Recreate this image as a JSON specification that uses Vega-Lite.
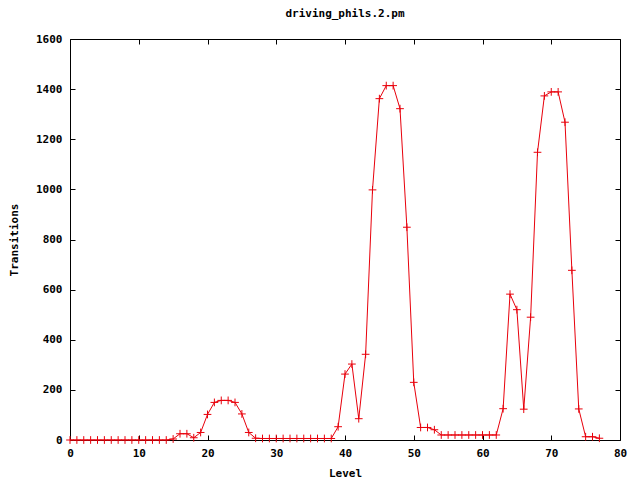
{
  "$schema": "https://vega.github.io/schema/vega-lite/v6.json",
  "autosize": "none",
  "padding": {"left": 70, "top": 39, "right": 20, "bottom": 40},
  "width": 550,
  "height": 401,
  "background": "white",
  "title": {"text": "driving_phils.2.pm", "font": "DejaVu Sans Mono", "fontSize": 11, "fontWeight": "bold", "color": "black", "offset": 14, "anchor": "middle"},
  "config": {
    "view": {"stroke": "black", "strokeWidth": 1},
    "axis": {"grid": false, "domain": false, "labelFlush": false, "labelFont": "DejaVu Sans Mono", "labelFontSize": 11, "labelFontWeight": "bold", "labelColor": "black", "titleFont": "DejaVu Sans Mono", "titleFontSize": 11, "titleFontWeight": "bold", "titleColor": "black", "tickColor": "black", "tickSize": -5, "format": "d"}
  },
  "data": {"values": [
    {"level": 0, "t": 0}, {"level": 1, "t": 0}, {"level": 2, "t": 0}, {"level": 3, "t": 0}, {"level": 4, "t": 0},
    {"level": 5, "t": 0}, {"level": 6, "t": 0}, {"level": 7, "t": 0}, {"level": 8, "t": 0}, {"level": 9, "t": 0},
    {"level": 10, "t": 0}, {"level": 11, "t": 0}, {"level": 12, "t": 0}, {"level": 13, "t": 0}, {"level": 14, "t": 0},
    {"level": 15, "t": 4}, {"level": 16, "t": 25}, {"level": 17, "t": 25}, {"level": 18, "t": 9}, {"level": 19, "t": 30},
    {"level": 20, "t": 102}, {"level": 21, "t": 150}, {"level": 22, "t": 158}, {"level": 23, "t": 158}, {"level": 24, "t": 150},
    {"level": 25, "t": 104}, {"level": 26, "t": 30}, {"level": 27, "t": 7}, {"level": 28, "t": 6}, {"level": 29, "t": 6},
    {"level": 30, "t": 6}, {"level": 31, "t": 6}, {"level": 32, "t": 6}, {"level": 33, "t": 6}, {"level": 34, "t": 6},
    {"level": 35, "t": 6}, {"level": 36, "t": 6}, {"level": 37, "t": 6}, {"level": 38, "t": 6}, {"level": 39, "t": 53},
    {"level": 40, "t": 263}, {"level": 41, "t": 303}, {"level": 42, "t": 85}, {"level": 43, "t": 342}, {"level": 44, "t": 998},
    {"level": 45, "t": 1362}, {"level": 46, "t": 1414}, {"level": 47, "t": 1414}, {"level": 48, "t": 1322}, {"level": 49, "t": 849},
    {"level": 50, "t": 230}, {"level": 51, "t": 50}, {"level": 52, "t": 50}, {"level": 53, "t": 41}, {"level": 54, "t": 20},
    {"level": 55, "t": 20}, {"level": 56, "t": 20}, {"level": 57, "t": 20}, {"level": 58, "t": 20}, {"level": 59, "t": 20},
    {"level": 60, "t": 20}, {"level": 61, "t": 20}, {"level": 62, "t": 20}, {"level": 63, "t": 125}, {"level": 64, "t": 582},
    {"level": 65, "t": 520}, {"level": 66, "t": 123}, {"level": 67, "t": 490}, {"level": 68, "t": 1148}, {"level": 69, "t": 1373},
    {"level": 70, "t": 1389}, {"level": 71, "t": 1389}, {"level": 72, "t": 1268}, {"level": 73, "t": 677}, {"level": 74, "t": 124},
    {"level": 75, "t": 13}, {"level": 76, "t": 13}, {"level": 77, "t": 7}
  ]},
  "layer": [
    {
      "mark": {"type": "line", "color": "#e8000b", "strokeWidth": 1},
      "encoding": {
        "x": {"field": "level", "type": "quantitative", "scale": {"domain": [0, 80], "nice": false, "zero": false}, "axis": {"orient": "bottom", "values": [0, 10, 20, 30, 40, 50, 60, 70, 80], "title": "Level", "labelPadding": 12, "titlePadding": 9}},
        "y": {"field": "t", "type": "quantitative", "scale": {"domain": [0, 1600], "nice": false}, "axis": {"orient": "left", "values": [0, 200, 400, 600, 800, 1000, 1200, 1400, 1600], "title": "Transitions", "labelPadding": 13, "titlePadding": 16}}
      }
    },
    {
      "mark": {"type": "point", "shape": "M-1,0L1,0M0,-1L0,1", "filled": false, "color": "#e8000b", "strokeWidth": 1, "size": 60, "opacity": 1},
      "encoding": {
        "x": {"field": "level", "type": "quantitative", "scale": {"domain": [0, 80], "nice": false, "zero": false}, "axis": {"orient": "top", "values": [0, 10, 20, 30, 40, 50, 60, 70, 80], "labels": false, "title": null}},
        "y": {"field": "t", "type": "quantitative", "scale": {"domain": [0, 1600], "nice": false}, "axis": {"orient": "right", "values": [0, 200, 400, 600, 800, 1000, 1200, 1400, 1600], "labels": false, "title": null}}
      }
    }
  ],
  "resolve": {"axis": {"x": "independent", "y": "independent"}}
}
